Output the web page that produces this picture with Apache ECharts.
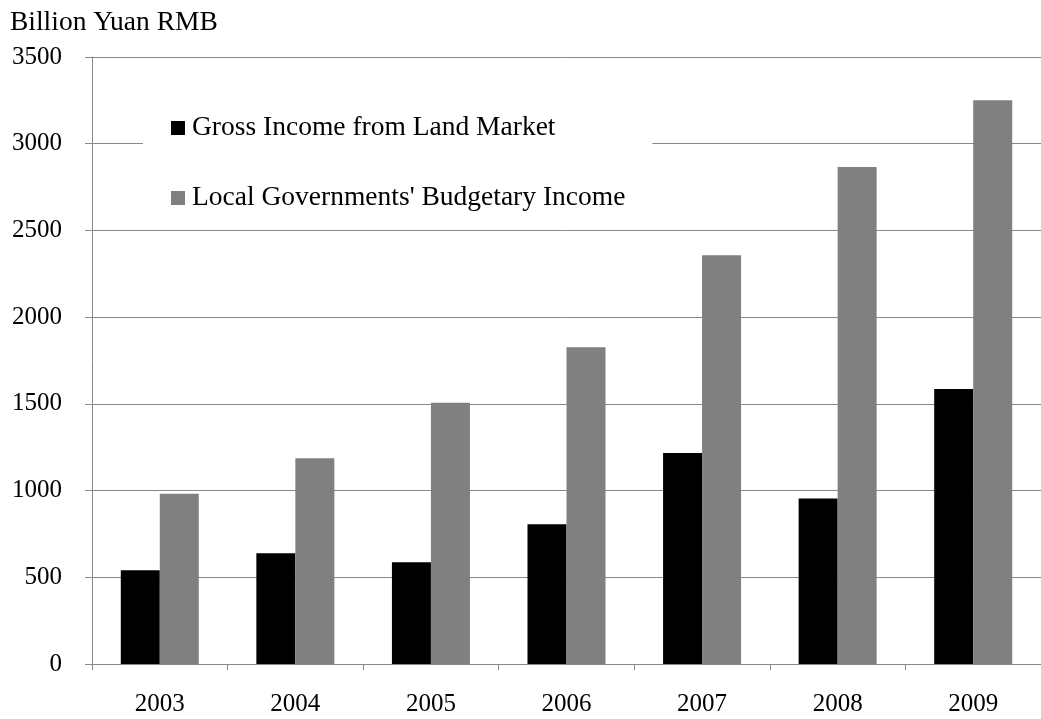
<!DOCTYPE html>
<html>
<head>
<meta charset="utf-8">
<script src="https://cdn.jsdelivr.net/npm/echarts@6/dist/echarts.min.js"></script>
<style>
  html, body { margin: 0; padding: 0; background: #fff; }
  #chart { width: 1041px; height: 719px; }
</style>
</head>
<body>
<div id="chart"></div>
<script>
// Dữ liệu (tỷ nhân dân tệ)
var years = ['2003', '2004', '2005', '2006', '2007', '2008', '2009'];
var landIncome = [540, 638, 586, 806, 1217, 955, 1586];
var budgetIncome = [982, 1186, 1507, 1827, 2357, 2866, 3250];
var seriesNames = ['Gross Income from Land Market', "Local Governments' Budgetary Income"];
var yTicks = { min: 0, max: 3500, step: 500 };

var chartDom = document.getElementById('chart');
var myChart = echarts.init(chartDom);

var font = '"Liberation Serif", "Times New Roman", serif';
var lineColor = '#888888';

var option = {
    animation: false,
    textStyle: { fontFamily: font },
    title: {
        text: 'Billion Yuan RMB',
        left: 5,
        top: 4,
        textStyle: { fontFamily: font, fontSize: 27.5, fontWeight: 'normal', color: '#000' }
    },
    legend: {
        orient: 'vertical',
        left: 143,
        top: 100,
        padding: [14, 27, 14, 28],
        itemGap: 42,
        itemWidth: 14,
        itemHeight: 14,
        icon: 'rect',
        backgroundColor: '#fff',
        textStyle: { fontFamily: font, fontSize: 27.5, color: '#000', padding: [0, 0, 0, 2] },
        data: seriesNames
    },
    grid: {
        left: 92,
        top: 57,
        bottom: 55,
        width: 954
    },
    xAxis: {
        type: 'category',
        data: years,
        axisLine: { lineStyle: { color: lineColor, width: 1 } },
        axisTick: { show: true, length: 6, lineStyle: { color: lineColor } },
        axisLabel: { fontFamily: font, fontSize: 25, color: '#000', margin: 28 }
    },
    yAxis: {
        type: 'value',
        min: yTicks.min,
        max: yTicks.max,
        interval: yTicks.step,
        axisLine: { show: true, lineStyle: { color: lineColor, width: 1 } },
        axisTick: { show: true, length: 7, lineStyle: { color: lineColor } },
        splitLine: { lineStyle: { color: lineColor, width: 1 } },
        axisLabel: {
            fontFamily: font, fontSize: 25, color: '#000', margin: 30,
            formatter: function (value) { return String(value); }
        }
    },
    series: [
        {
            name: seriesNames[0],
            type: 'bar',
            data: landIncome,
            barWidth: 39,
            barGap: '0%',
            itemStyle: { color: '#000000' }
        },
        {
            name: seriesNames[1],
            type: 'bar',
            data: budgetIncome,
            barWidth: 39,
            barGap: '0%',
            itemStyle: { color: '#808080' }
        }
    ]
};

myChart.setOption(option);
</script>
</body>
</html>
